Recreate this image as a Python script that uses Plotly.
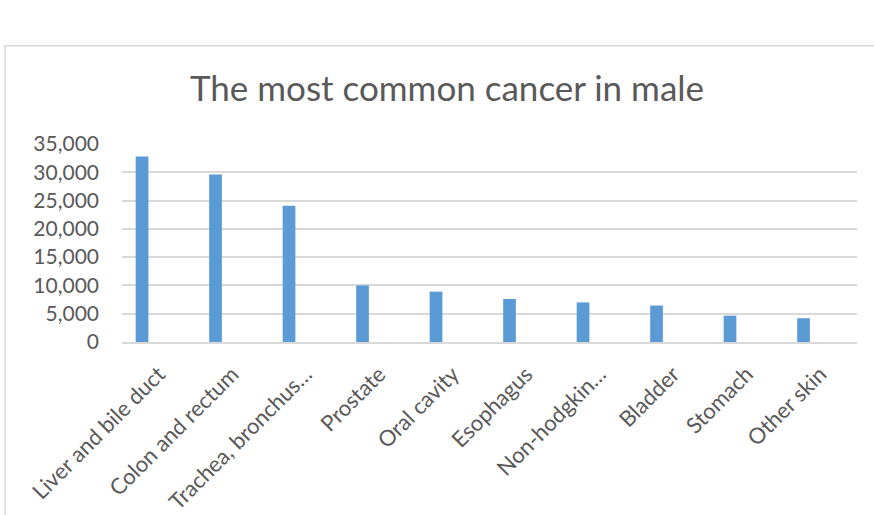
import plotly.graph_objects as go

# Most common cancers in males (new cases)
sites = [
    "Liver and bile duct",
    "Colon and rectum",
    "Trachea, bronchus…",
    "Prostate",
    "Oral cavity",
    "Esophagus",
    "Non-hodgkin…",
    "Bladder",
    "Stomach",
    "Other skin",
]
cases = [32800, 29600, 24100, 10000, 8900, 7600, 7000, 6450, 4650, 4200]
y_ticks = [0, 5000, 10000, 15000, 20000, 25000, 30000, 35000]

BAR_BLUE = "#5B9BD5"
GRID = "#D9D9D9"
TEXT = "#595959"
FONT = "Lato"

fig = go.Figure(
    go.Bar(
        x=sites,
        y=cases,
        marker=dict(color=BAR_BLUE, line=dict(width=0)),
        width=0.173,
        offset=-0.314,
        hoverinfo="x+y",
    )
)

fig.update_layout(
    width=874,
    height=515,
    margin=dict(l=122, r=17, t=144, b=173),
    paper_bgcolor="white",
    plot_bgcolor="white",
    showlegend=False,
    font=dict(family=FONT, color=TEXT),
    title=dict(
        text="The most common cancer in male",
        x=447 / 874,
        xanchor="center",
        xref="container",
        y=1 - 89 / 515,
        yanchor="middle",
        yref="container",
        font=dict(family=FONT, size=35, color=TEXT, weight=400),
    ),
    xaxis=dict(
        type="category",
        tickangle=-45,
        tickfont=dict(family=FONT, size=22, color=TEXT),
        showgrid=False,
        showline=True,
        linecolor=GRID,
        linewidth=1.5,
        ticks="",
        ticklabelstandoff=9,
        automargin=False,
        fixedrange=True,
    ),
    yaxis=dict(
        range=[0, 35000],
        tickvals=y_ticks,
        tickformat=",d",
        tickfont=dict(family=FONT, size=21, color=TEXT),
        showgrid=True,
        gridcolor=GRID,
        gridwidth=1.5,
        zeroline=False,
        showline=False,
        ticks="",
        ticklabelstandoff=22,
        automargin=False,
        fixedrange=True,
    ),
    shapes=[
        # chart frame, open to the right and bottom
        dict(
            type="rect",
            xref="paper",
            yref="paper",
            x0=(5 - 122) / 735,
            x1=1.3,
            y0=-1.5,
            y1=(342.3 - 46) / 198,
            line=dict(color=GRID, width=1.5),
            fillcolor="rgba(0,0,0,0)",
            layer="below",
        )
    ],
)

fig.write_html("out.html")
